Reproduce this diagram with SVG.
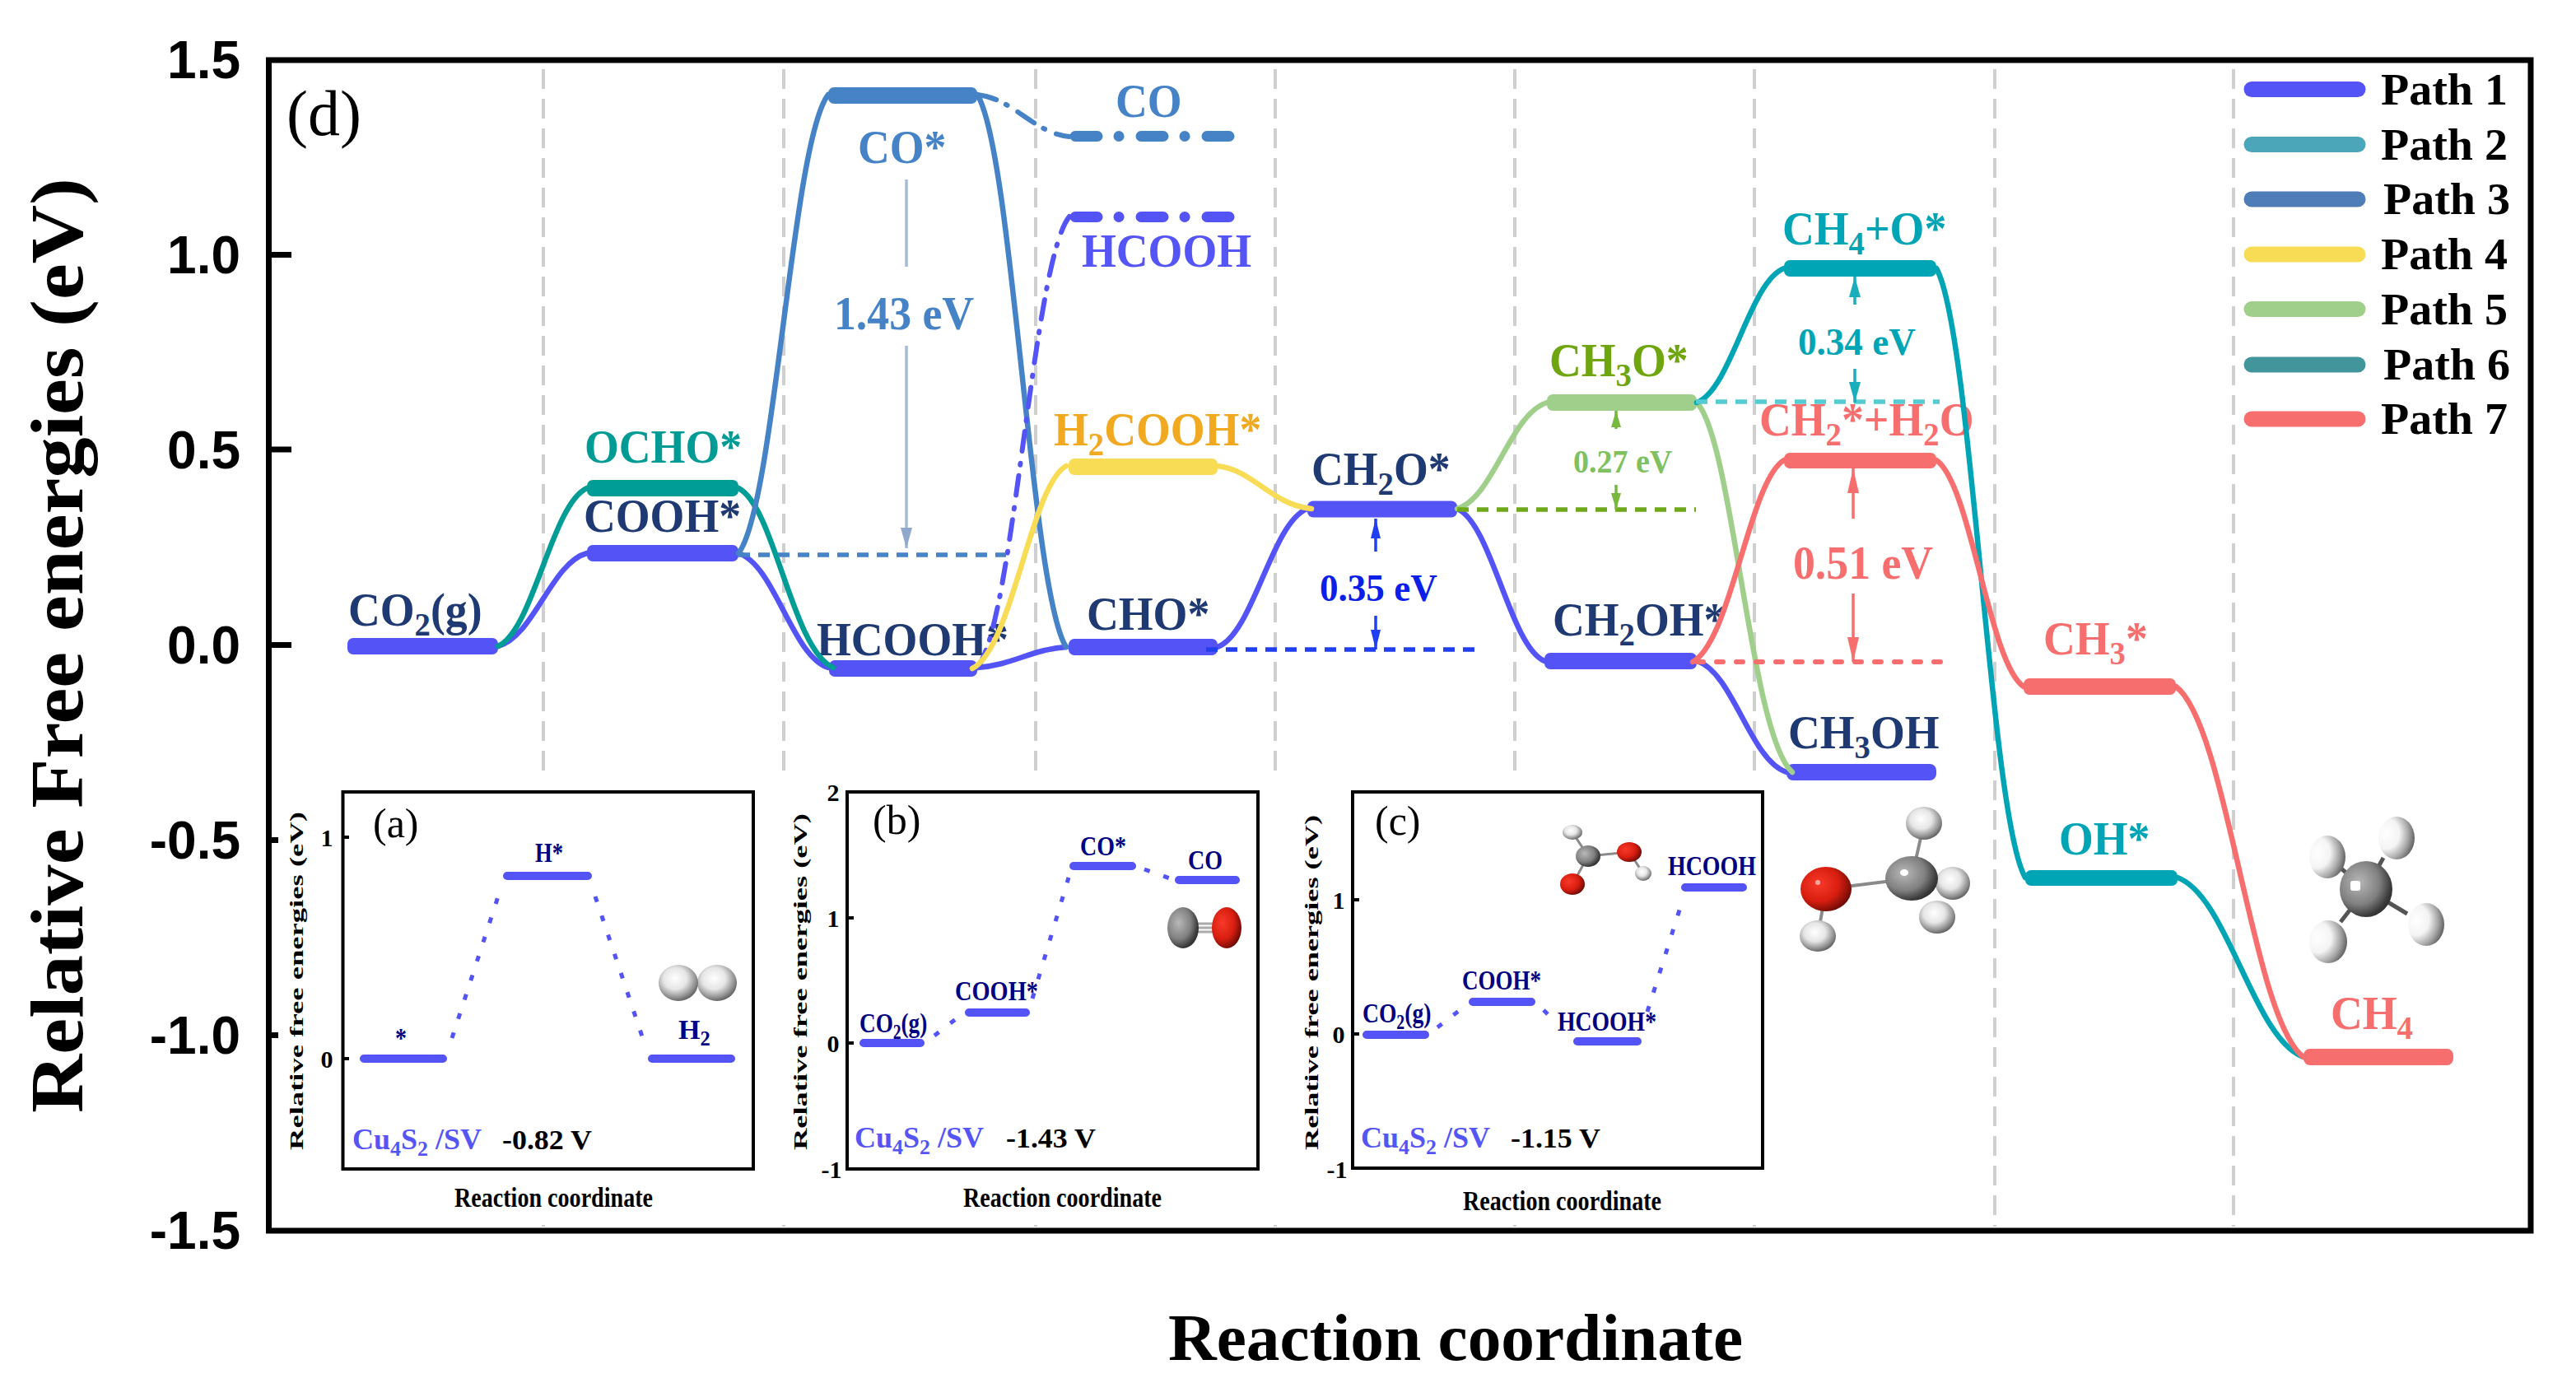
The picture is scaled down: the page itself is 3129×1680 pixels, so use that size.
<svg xmlns="http://www.w3.org/2000/svg" width="3129" height="1680" viewBox="0 0 3129 1680">
<style>
text{font-family:"Liberation Serif","Times New Roman",serif;font-weight:bold}
.s{font-size:72%}
.l{font-size:56px}
.navy{fill:#1f3a73}
.tick{font-family:"Liberation Sans",Arial,sans-serif;font-size:64px;fill:#000;text-anchor:end}
.grid{stroke:#cfcfcf;stroke-width:4;stroke-dasharray:24 12;fill:none}
.lv{stroke-width:19;stroke-linecap:round;fill:none}
.c{stroke-width:6.5;stroke-linecap:round;fill:none}
.p1{stroke:#5353f6}.p2{stroke:#4aa6b8}.p3{stroke:#4583c6}.p4{stroke:#f8dc55}.p5{stroke:#a0cf8b}.p6{stroke:#009c96}.p7{stroke:#f76e6e}.pt{stroke:#00a5b5}
.f1{fill:#5353f6}.f3{fill:#4583c6}.f4{fill:#f8dc55}.f5{fill:#a0cf8b}.f6{fill:#009c96}.f7{fill:#f76e6e}.ft{fill:#00a5b5}
.dd{stroke-dasharray:24 13 2 15;stroke-width:6}
.ld{stroke-width:13;stroke-linecap:round;stroke-dasharray:27 26 0.1 26.9;fill:none}
.dl{stroke-width:5.5;stroke-dasharray:14 10;fill:none}
.ar{stroke-width:3.5;fill:none}
.frame{fill:#fff;stroke:#000;stroke-width:4}
.il{font-size:34px;fill:#000080}
.iy{font-size:23px;fill:#000}
.it{font-size:30px;fill:#000;text-anchor:middle}
.ip{font-size:50px;font-weight:normal;fill:#000}
.ic{font-size:36px;fill:#5555f5}
.iv{font-size:34px;fill:#000}
.ix{font-size:34px;fill:#000}
.il-l{stroke:#5353f6;stroke-width:10;stroke-linecap:round;fill:none}
.id{stroke:#5353f6;stroke-width:5;stroke-dasharray:7 17.5;fill:none}
.bond{stroke:#8a8a8a;stroke-width:4;fill:none}
</style>
<defs>
<marker id="aSteel" markerUnits="userSpaceOnUse" markerWidth="26" markerHeight="16" refX="25" refY="8" orient="auto"><path d="M0 1L25 8L0 15Z" fill="#8fa8cc"/></marker>
<marker id="aBlue" markerUnits="userSpaceOnUse" markerWidth="24" markerHeight="14" refX="24" refY="7" orient="auto"><path d="M0 1L24 7L0 13Z" fill="#1f3ff0"/></marker>
<marker id="aGreen" markerUnits="userSpaceOnUse" markerWidth="22" markerHeight="14" refX="20" refY="7" orient="auto"><path d="M0 1L20 7L0 13Z" fill="#78b83f"/></marker>
<marker id="aCyan" markerUnits="userSpaceOnUse" markerWidth="26" markerHeight="16" refX="25" refY="8" orient="auto"><path d="M0 1L25 8L0 15Z" fill="#1aaebd"/></marker>
<marker id="aRed" markerUnits="userSpaceOnUse" markerWidth="31" markerHeight="16" refX="30" refY="8" orient="auto"><path d="M0 1L30 8L0 15Z" fill="#f76e6e"/></marker>
<radialGradient id="gH" cx="42%" cy="38%" r="66%"><stop offset="0" stop-color="#ffffff"/><stop offset=".45" stop-color="#e6e6e6"/><stop offset=".8" stop-color="#8f8f8f"/><stop offset="1" stop-color="#555"/></radialGradient>
<radialGradient id="gM" cx="22%" cy="40%" r="85%"><stop offset="0" stop-color="#ffffff"/><stop offset=".42" stop-color="#f4f4f4"/><stop offset=".72" stop-color="#a5a5a5"/><stop offset="1" stop-color="#4a4a4a"/></radialGradient>
<radialGradient id="gC" cx="36%" cy="38%" r="72%"><stop offset="0" stop-color="#b8b8b8"/><stop offset=".55" stop-color="#808080"/><stop offset=".85" stop-color="#3a3a3a"/><stop offset="1" stop-color="#2a2a2a"/></radialGradient>
<radialGradient id="gO" cx="36%" cy="38%" r="72%"><stop offset="0" stop-color="#f8392a"/><stop offset=".55" stop-color="#d81e10"/><stop offset="1" stop-color="#5a0703"/></radialGradient>
</defs>
<rect width="3129" height="1680" fill="#fff"/>
<g id="grid">
<path class="grid" d="M660 84V1490M952 84V1490M1258 84V1490M1549 84V1490M1840 84V1490M2131 84V1490M2423 84V1490M2713 84V1490"/>
<rect x="338" y="942" width="1806" height="536" fill="#fff"/>
</g>
<g id="axes">
<rect x="326.500" y="73" width="2747.500" height="1422" fill="none" stroke="#000" stroke-width="7"/>
<path d="M326 309.500H354M326 546H354M326 783.600H354M326 1020.600H338M326 1257.600H338" stroke="#000" stroke-width="7"/>
<text class="tick" x="292" y="95">1.5</text>
<text class="tick" x="292" y="332">1.0</text>
<text class="tick" x="292" y="569">0.5</text>
<text class="tick" x="292" y="806">0.0</text>
<text class="tick" x="292" y="1043">-0.5</text>
<text class="tick" x="292" y="1280">-1.0</text>
<text class="tick" x="292" y="1517">-1.5</text>
<text x="0" y="0" transform="translate(100 1352) rotate(-90)" font-size="92" textLength="1136" lengthAdjust="spacingAndGlyphs">Relative Free energies (eV)</text>
<text x="1419" y="1652" font-size="80" textLength="698" lengthAdjust="spacingAndGlyphs">Reaction coordinate</text>
<text x="348" y="164" font-size="78" style="font-weight:normal">(d)</text>
</g>
<g id="n-co2"><rect class="f1" x="422" y="775" width="183" height="20" rx="7"/><text class="l navy" transform="translate(423 760) scale(.96 1)">CO<tspan class="s" dy="12">2</tspan><tspan dy="-12">(g)</tspan></text></g>
<g id="n-ocho"><rect class="f6" x="713" y="583" width="184" height="20" rx="7"/><text class="l" fill="#009b94" transform="translate(710 562) scale(.96 1)">OCHO*</text></g>
<g id="n-cooh"><rect class="f1" x="713" y="662" width="184" height="20" rx="7"/><text class="l navy" transform="translate(709 646) scale(.96 1)">COOH*</text></g>
<g id="n-hcooh-ads"><rect class="f1" x="1007" y="802" width="180" height="20" rx="7"/><text class="l navy" transform="translate(992 796) scale(.96 1)">HCOOH*</text></g>
<g id="n-co-ads"><rect class="f3" x="1006" y="106" width="181" height="20" rx="7"/><text class="l" fill="#4583c6" transform="translate(1042 198) scale(.96 1)">CO*</text></g>
<g id="n-co-gas"><path class="ld p3" d="M1306 165.500H1494"/><text class="l" fill="#4583c6" transform="translate(1355 142) scale(.96 1)">CO</text></g>
<g id="n-hcooh-gas"><path class="ld p1" d="M1306 263.500H1494"/><text class="l" fill="#5555f5" transform="translate(1314 324) scale(.96 1)">HCOOH</text></g>
<g id="n-h2cooh"><rect class="f4" x="1298" y="557" width="181" height="20" rx="7"/><text class="l" fill="#f0a920" transform="translate(1280 541) scale(.96 1)">H<tspan class="s" dy="12">2</tspan><tspan dy="-12">COOH*</tspan></text></g>
<g id="n-cho"><rect class="f1" x="1298" y="776" width="181" height="20" rx="7"/><text class="l navy" transform="translate(1320 765) scale(.96 1)">CHO*</text></g>
<g id="n-ch2o"><rect class="f1" x="1588" y="608.500" width="182" height="20" rx="7"/><text class="l navy" transform="translate(1593 589) scale(.96 1)">CH<tspan class="s" dy="12">2</tspan><tspan dy="-12">O*</tspan></text></g>
<g id="n-ch3o"><rect class="f5" x="1879" y="479" width="182" height="20" rx="7"/><text class="l" fill="#6fa50f" transform="translate(1882 457) scale(.96 1)">CH<tspan class="s" dy="12">3</tspan><tspan dy="-12">O*</tspan></text></g>
<g id="n-ch2oh"><rect class="f1" x="1876" y="793" width="185" height="20" rx="7"/><text class="l navy" transform="translate(1886 772) scale(.96 1)">CH<tspan class="s" dy="12">2</tspan><tspan dy="-12">OH*</tspan></text></g>
<g id="n-ch3oh"><rect class="f1" x="2170" y="928" width="182" height="20" rx="8"/><text class="l navy" transform="translate(2172 909) scale(.96 1)">CH<tspan class="s" dy="12">3</tspan><tspan dy="-12">OH</tspan></text></g>
<g id="n-ch4o"><rect class="ft" x="2167" y="316" width="185" height="20" rx="7"/><text class="l" fill="#00a5b5" transform="translate(2165 297) scale(.96 1)">CH<tspan class="s" dy="12">4</tspan><tspan dy="-12">+O*</tspan></text></g>
<g id="n-ch2h2o"><rect class="f7" x="2167" y="550" width="185" height="19" rx="7"/><text class="l" fill="#f76e6e" transform="translate(2137 529) scale(.96 1)">CH<tspan class="s" dy="12">2</tspan><tspan dy="-12">*+H</tspan><tspan class="s" dy="12">2</tspan><tspan dy="-12">O</tspan></text></g>
<g id="n-ch3"><rect class="f7" x="2458" y="824" width="185" height="20" rx="7"/><text class="l" fill="#f76e6e" transform="translate(2482 795) scale(.96 1)">CH<tspan class="s" dy="12">3</tspan><tspan dy="-12">*</tspan></text></g>
<g id="n-oh"><rect class="ft" x="2460" y="1057" width="185" height="19" rx="7"/><text class="l" fill="#00a5b5" transform="translate(2501 1038) scale(.96 1)">OH*</text></g>
<g id="n-ch4"><rect class="f7" x="2798" y="1274" width="182" height="20" rx="8"/><text class="l" fill="#f76e6e" transform="translate(2831 1250) scale(.96 1)">CH<tspan class="s" dy="12">4</tspan></text></g>
<g id="connectors">
<path class="c p1" d="M605 785C648 774 670 683 713 672M897 672C941 686 962 797 1006 811M1187 811C1230 808 1252 789 1295 786M1479 786C1523 769 1544 635 1588 618M1770 618C1812 636 1834 785 1876 803M2061 803C2105 816 2126 924 2170 938"/>
<path class="c p6" d="M605 785C648 766 670 612 713 593M897 593C941 615 962 789 1012 811"/>
<path class="c p3" d="M897 672C941 616 962 171 1006 115M1187 115C1230 182 1252 719 1295 786"/>
<path class="c p3 dd" d="M1187 115C1232 120 1254 161 1299 166"/>
<path class="c p1 dd" d="M1187 811C1232 756 1254 318 1299 263"/>
<path class="c p4" d="M1181 812C1230 787 1252 590 1295 566M1479 566C1523 571 1544 613 1593 618"/>
<path class="c p5" d="M1770 618C1814 605 1835 502 1879 489M2061 489C2105 534 2126 893 2177 938"/>
<path class="c pt" d="M2061 489C2103 473 2125 342 2167 326M2352 326C2395 400 2417 992 2460 1066M2645 1066C2706 1088 2737 1262 2798 1284"/>
<path class="c p7" d="M2056 804C2103 779 2125 583 2167 559M2352 559C2394 587 2416 806 2458 834M2643 834C2705 879 2736 1239 2798 1284"/>
<path class="dl" stroke="#4583c6" d="M897 674H1222"/>
<path class="dl" stroke="#1f3ff0" d="M1465 789H1795"/>
<path class="dl" stroke="#6fa81a" d="M1770 619H2060"/>
<path class="dl" stroke="#55cbd4" d="M2060 488H2356"/>
<path class="dl" stroke="#f76e6e" stroke-linecap="round" style="stroke-dasharray:8 16;stroke-width:6" d="M2061 804H2360"/>
<path class="ar" stroke="#a5bbd8" d="M1101 218V324"/>
<path class="ar" stroke="#a5bbd8" marker-end="url(#aSteel)" d="M1101 420V666"/>
<path class="ar" stroke="#1f3ff0" marker-end="url(#aBlue)" d="M1671 670V630"/>
<path class="ar" stroke="#1f3ff0" marker-end="url(#aBlue)" d="M1671 748V789"/>
<path class="ar" stroke="#78b83f" marker-end="url(#aGreen)" d="M1963 521V499"/>
<path class="ar" stroke="#78b83f" marker-end="url(#aGreen)" d="M1963 589V619"/>
<path class="ar" stroke="#1aaebd" marker-end="url(#aCyan)" d="M2253 370V336"/>
<path class="ar" stroke="#1aaebd" marker-end="url(#aCyan)" d="M2253 448V489"/>
<path class="ar" stroke="#f76e6e" marker-end="url(#aRed)" d="M2251 630V569"/>
<path class="ar" stroke="#f76e6e" marker-end="url(#aRed)" d="M2251 721V804"/>
</g>
<g id="energy-labels">
<text class="l" fill="#4583c6" transform="translate(1013 400) scale(.96 1)">1.43 eV</text>
<text font-size="47" fill="#0a20e8" transform="translate(1603 730) scale(.96 1)">0.35 eV</text>
<text font-size="40" fill="#7fc05f" transform="translate(1911 574) scale(.95 1)">0.27 eV</text>
<text font-size="47" fill="#00a5b5" transform="translate(2184 431) scale(.96 1)">0.34 eV</text>
<text class="l" fill="#f76e6e" transform="translate(2178 703) scale(.96 1)">0.51 eV</text>
</g>
<g id="legend">
<g font-size="54">
<path class="lv p1" d="M2735 108.500H2864"/><text x="2892" y="127" textLength="154" lengthAdjust="spacingAndGlyphs">Path 1</text>
<path class="lv p2" d="M2735 175.500H2864"/><text x="2892" y="194" textLength="154" lengthAdjust="spacingAndGlyphs">Path 2</text>
<path class="lv" stroke="#4f7db8" d="M2735 242H2864"/><text x="2895" y="260" textLength="154" lengthAdjust="spacingAndGlyphs">Path 3</text>
<path class="lv p4" d="M2735 309H2864"/><text x="2892" y="327" textLength="154" lengthAdjust="spacingAndGlyphs">Path 4</text>
<path class="lv p5" d="M2735 375.500H2864"/><text x="2892" y="394" textLength="154" lengthAdjust="spacingAndGlyphs">Path 5</text>
<path class="lv" stroke="#43959c" d="M2735 443H2864"/><text x="2895" y="461" textLength="154" lengthAdjust="spacingAndGlyphs">Path 6</text>
<path class="lv p7" d="M2735 509H2864"/><text x="2892" y="527" textLength="154" lengthAdjust="spacingAndGlyphs">Path 7</text>
</g>
</g>
<g id="inset-a">
<rect class="frame" x="416.500" y="962" width="498.500" height="458"/>
<path d="M416 1017H424M416 1286H424" stroke="#000" stroke-width="4"/>
<text class="it" x="397" y="1028">1</text><text class="it" x="397" y="1297">0</text>
<text class="iy" transform="translate(368 1397) rotate(-90)" textLength="411" lengthAdjust="spacingAndGlyphs">Relative free energies (eV)</text>
<text class="ip" x="453" y="1017">(a)</text>
<path class="il-l" d="M442 1286H538M616 1064H714M792 1286H888"/>
<path class="id" d="M549 1261L607 1083M723 1089L783 1268"/>
<text class="il" x="480" y="1272" textLength="14" lengthAdjust="spacingAndGlyphs">*</text>
<text class="il" x="650" y="1047" textLength="34" lengthAdjust="spacingAndGlyphs">H*</text>
<text class="il" x="824" y="1262">H<tspan class="s" dy="8">2</tspan></text>
<ellipse cx="871" cy="1194" rx="24" ry="22" fill="url(#gH)"/><ellipse cx="824" cy="1194" rx="24" ry="22" fill="url(#gH)"/>
<text class="ic" x="428" y="1396">Cu<tspan class="s" dy="8">4</tspan><tspan dy="-8">S</tspan><tspan class="s" dy="8">2</tspan><tspan dy="-8"> /SV</tspan></text>
<text class="iv" x="610" y="1396" textLength="109" lengthAdjust="spacingAndGlyphs">-0.82 V</text>
<text class="ix" x="552" y="1466" textLength="241" lengthAdjust="spacingAndGlyphs">Reaction coordinate</text>
</g>
<g id="inset-b">
<rect class="frame" x="1029" y="962" width="499" height="458"/>
<path d="M1029 1115H1037M1029 1267H1037" stroke="#000" stroke-width="4"/>
<text class="it" x="1012" y="973">2</text><text class="it" x="1012" y="1126">1</text><text class="it" x="1012" y="1278">0</text><text class="it" x="1010" y="1431">-1</text>
<text class="iy" transform="translate(980 1397) rotate(-90)" textLength="409" lengthAdjust="spacingAndGlyphs">Relative free energies (eV)</text>
<text class="ip" x="1060" y="1013">(b)</text>
<path class="il-l" d="M1049 1267H1118M1177 1230H1246M1304 1052H1375M1432 1069H1501"/>
<path class="id" d="M1135 1258L1162 1237M1254 1213L1298 1066M1390 1056L1421 1067"/>
<text class="il" transform="translate(1044 1254) scale(.8 1)">CO<tspan class="s" dy="8">2</tspan><tspan dy="-8">(g)</tspan></text>
<text class="il" x="1160" y="1215" textLength="101" lengthAdjust="spacingAndGlyphs">COOH*</text>
<text class="il" x="1312" y="1039" textLength="56" lengthAdjust="spacingAndGlyphs">CO*</text>
<text class="il" x="1443" y="1056" textLength="42" lengthAdjust="spacingAndGlyphs">CO</text>
<path d="M1450 1122H1480M1450 1127H1480M1450 1132H1480" stroke="#aaa" stroke-width="3"/>
<ellipse cx="1437" cy="1127" rx="19" ry="25" fill="url(#gC)"/><ellipse cx="1490" cy="1127" rx="18" ry="25" fill="url(#gO)"/>
<text class="ic" x="1038" y="1394">Cu<tspan class="s" dy="8">4</tspan><tspan dy="-8">S</tspan><tspan class="s" dy="8">2</tspan><tspan dy="-8"> /SV</tspan></text>
<text class="iv" x="1222" y="1394" textLength="109" lengthAdjust="spacingAndGlyphs">-1.43 V</text>
<text class="ix" x="1170" y="1466" textLength="241" lengthAdjust="spacingAndGlyphs">Reaction coordinate</text>
</g>
<g id="inset-c">
<rect class="frame" x="1643" y="962" width="498" height="457"/>
<path d="M1643 1093H1651M1643 1256H1651" stroke="#000" stroke-width="4"/>
<text class="it" x="1626" y="1104">1</text><text class="it" x="1626" y="1267">0</text><text class="it" x="1624" y="1431">-1</text>
<text class="iy" transform="translate(1601 1397) rotate(-90)" textLength="407" lengthAdjust="spacingAndGlyphs">Relative free energies (eV)</text>
<text class="ip" x="1670" y="1014">(c)</text>
<path class="il-l" d="M1660 1257H1731M1789 1217H1860M1916 1265H1989M2047 1078H2117"/>
<path class="id" d="M1746 1248L1776 1225M1875 1227L1889 1241M2001 1229L2042 1099"/>
<text class="il" transform="translate(1655 1242) scale(.81 1)">CO<tspan class="s" dy="8">2</tspan><tspan dy="-8">(g)</tspan></text>
<text class="il" x="1776" y="1202" textLength="96" lengthAdjust="spacingAndGlyphs">COOH*</text>
<text class="il" x="1892" y="1252" textLength="120" lengthAdjust="spacingAndGlyphs">HCOOH*</text>
<text class="il" x="2026" y="1063" textLength="107" lengthAdjust="spacingAndGlyphs">HCOOH</text>
<path class="bond" style="stroke-width:3" d="M1910 1011L1929 1040L1979 1035L1996 1061M1929 1040L1910 1074"/>
<ellipse cx="1910" cy="1011" rx="12" ry="9" fill="url(#gH)"/><ellipse cx="1929" cy="1040" rx="15" ry="13" fill="url(#gC)"/><ellipse cx="1979" cy="1035" rx="15" ry="12" fill="url(#gO)"/><ellipse cx="1910" cy="1074" rx="15" ry="13" fill="url(#gO)"/><ellipse cx="1996" cy="1061" rx="10" ry="9" fill="url(#gH)"/>
<text class="ic" x="1653" y="1394">Cu<tspan class="s" dy="8">4</tspan><tspan dy="-8">S</tspan><tspan class="s" dy="8">2</tspan><tspan dy="-8"> /SV</tspan></text>
<text class="iv" x="1835" y="1394" textLength="109" lengthAdjust="spacingAndGlyphs">-1.15 V</text>
<text class="ix" x="1777" y="1470" textLength="241" lengthAdjust="spacingAndGlyphs">Reaction coordinate</text>
</g>
<g id="mol-ch3oh">
<path class="bond" d="M2218 1080L2322 1067L2337 1000M2218 1080L2208 1137"/>
<ellipse cx="2337" cy="1000" rx="22" ry="20" fill="url(#gH)"/><ellipse cx="2372" cy="1073" rx="21" ry="20" fill="url(#gH)"/><ellipse cx="2208" cy="1137" rx="22" ry="19" fill="url(#gH)"/>
<ellipse cx="2322" cy="1067" rx="32" ry="27" fill="url(#gC)"/><ellipse cx="2313" cy="1060" rx="5" ry="4" fill="#fff"/>
<ellipse cx="2353" cy="1114" rx="22" ry="20" fill="url(#gH)"/>
<ellipse cx="2218" cy="1080" rx="31" ry="27" fill="url(#gO)"/><ellipse cx="2208" cy="1072" rx="3" ry="3" fill="#f8a8a0"/>
</g>
<g id="mol-ch4">
<path class="bond" style="stroke:#555;stroke-width:5" d="M2874 1080L2895 1042M2874 1080L2840 1052M2874 1080L2924 1110M2874 1080L2843 1120"/>
<ellipse cx="2911" cy="1018" rx="22" ry="26" fill="url(#gM)"/><ellipse cx="2827" cy="1041" rx="22" ry="26" fill="url(#gM)"/><ellipse cx="2947" cy="1123" rx="22" ry="26" fill="url(#gM)"/><ellipse cx="2828" cy="1144" rx="23" ry="26" fill="url(#gM)"/>
<ellipse cx="2874" cy="1080" rx="32" ry="34" fill="url(#gC)"/><rect x="2855" y="1070" width="12" height="12" rx="3" fill="#fff"/>
</g>
</svg>
